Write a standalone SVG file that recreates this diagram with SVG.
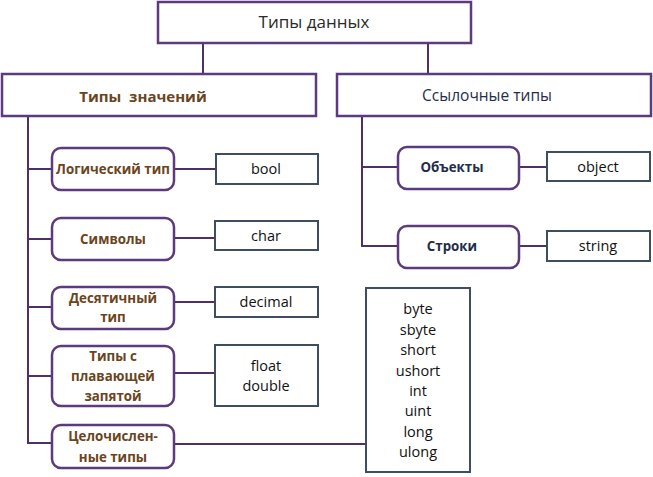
<svg xmlns="http://www.w3.org/2000/svg" width="653" height="477" viewBox="0 0 653 477">
<style>
.main{fill:#fff;stroke:#5c3a7e;stroke-width:2.5}
.cat{fill:#fff;stroke:#5c3a7e;stroke-width:2.5}
.val{fill:#fff;stroke:#3e4e60;stroke-width:2}
.ln{stroke:#4e2f66;stroke-width:2;fill:none}
.t1{font-family:"Open Sans","Liberation Sans",sans-serif;font-size:17px;fill:#2a2a2a;text-anchor:middle}
.t2b{font-family:"Open Sans","Liberation Sans",sans-serif;font-size:15px;font-weight:bold;fill:#6b4420;text-anchor:middle}
.t2n{font-family:"Open Sans","Liberation Sans",sans-serif;font-size:15.5px;fill:#1f2d4a;text-anchor:middle}
.tc{font-family:"Open Sans","Liberation Sans",sans-serif;font-size:13.3px;font-weight:bold;fill:#6b4420;text-anchor:middle}
.tn{font-family:"Open Sans","Liberation Sans",sans-serif;font-size:13.3px;font-weight:bold;fill:#1f2d4a;text-anchor:middle}
.tv{font-family:"Open Sans","Liberation Sans",sans-serif;font-size:14.5px;fill:#111;text-anchor:middle}
</style>
<g id="connectors">
<line class="ln" x1="203" y1="43" x2="203" y2="74"/>
<line class="ln" x1="428" y1="43" x2="428" y2="74"/>
<polyline class="ln" points="28,116 28,443 52,443"/>
<line class="ln" x1="28" y1="169" x2="52" y2="169"/>
<line class="ln" x1="28" y1="239" x2="52" y2="239"/>
<line class="ln" x1="28" y1="307" x2="52" y2="307"/>
<line class="ln" x1="28" y1="376" x2="52" y2="376"/>
<line class="ln" x1="174" y1="169" x2="215" y2="169"/>
<line class="ln" x1="174" y1="238" x2="215" y2="238"/>
<line class="ln" x1="174" y1="302" x2="215" y2="302"/>
<line class="ln" x1="174" y1="373" x2="215" y2="373"/>
<line class="ln" x1="174" y1="444" x2="366" y2="444"/>
<polyline class="ln" points="362,116 362,246 398,246"/>
<line class="ln" x1="362" y1="167" x2="398" y2="167"/>
<line class="ln" x1="519" y1="167" x2="547" y2="167"/>
<line class="ln" x1="519" y1="246" x2="547" y2="246"/>
</g>
<g id="root"><rect class="main" x="158" y="2" width="313" height="41"/><text class="t1" x="314" y="28">Типы данных</text></g>
<g id="value-types"><rect class="main" x="2" y="74" width="314" height="42"/><text class="t2b" x="143" y="102" xml:space="preserve">Типы  значений</text></g>
<g id="ref-types"><rect class="main" x="337" y="74" width="314" height="42"/><text class="t2n" x="487" y="101">Ссылочные типы</text></g>
<g id="bool-cat"><rect class="cat" x="52" y="148" width="122" height="42" rx="9"/><text class="tc" x="113" y="174">Логический тип</text></g>
<g id="char-cat"><rect class="cat" x="52" y="218" width="122" height="42" rx="9"/><text class="tc" x="113" y="244">Символы</text></g>
<g id="dec-cat"><rect class="cat" x="52" y="287" width="122" height="42" rx="9"/><text class="tc" x="113" y="303">Десятичный</text><text class="tc" x="113" y="322">тип</text></g>
<g id="float-cat"><rect class="cat" x="52" y="346" width="122" height="60" rx="9"/><text class="tc" x="113" y="361">Типы с</text><text class="tc" x="113" y="381">плавающей</text><text class="tc" x="113" y="401">запятой</text></g>
<g id="int-cat"><rect class="cat" x="52" y="425" width="122" height="43" rx="9"/><text class="tc" x="113" y="441">Целочислен-</text><text class="tc" x="113" y="462">ные типы</text></g>
<g id="obj-cat"><rect class="cat" x="398" y="147" width="121" height="42" rx="9"/><text class="tn" x="452" y="172">Объекты</text></g>
<g id="str-cat"><rect class="cat" x="398" y="226" width="121" height="42" rx="9"/><text class="tn" x="452" y="251">Строки</text></g>
<g id="bool"><rect class="val" x="216" y="154" width="102" height="30"/><text class="tv" x="266" y="174">bool</text></g>
<g id="char"><rect class="val" x="215" y="221" width="103" height="29"/><text class="tv" x="266" y="241">char</text></g>
<g id="decimal"><rect class="val" x="215" y="287" width="103" height="30"/><text class="tv" x="266" y="307">decimal</text></g>
<g id="float"><rect class="val" x="215" y="345" width="103" height="61"/><text class="tv" x="266" y="371">float</text><text class="tv" x="266" y="391">double</text></g>
<g id="object"><rect class="val" x="547" y="152" width="103" height="29"/><text class="tv" x="598" y="172">object</text></g>
<g id="string"><rect class="val" x="547" y="231" width="103" height="30"/><text class="tv" x="598" y="251">string</text></g>
<g id="ints"><rect class="val" x="366" y="288" width="104" height="184"/>
<text class="tv" x="418" y="314">byte</text>
<text class="tv" x="418" y="335">sbyte</text>
<text class="tv" x="418" y="355">short</text>
<text class="tv" x="418" y="376">ushort</text>
<text class="tv" x="418" y="396">int</text>
<text class="tv" x="418" y="416">uint</text>
<text class="tv" x="418" y="437">long</text>
<text class="tv" x="418" y="457">ulong</text>
</g>
</svg>
